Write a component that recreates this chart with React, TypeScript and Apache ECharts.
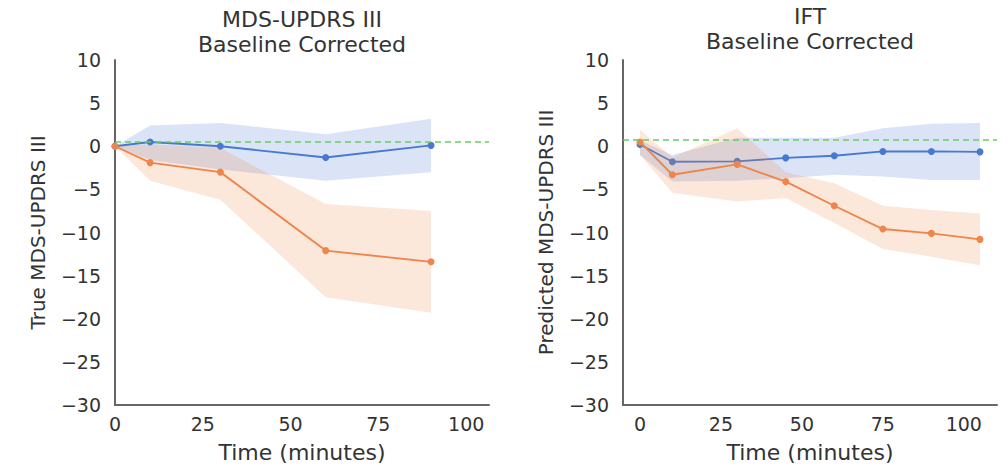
import React, { useEffect, useRef } from "react";
import * as echarts from "echarts";

// ---- data ----
const leftTimes = [0, 10, 30, 60, 90];
const leftBlue = [0, 0.5, 0.0, -1.3, 0.1];
const leftBlueUpper = [0, 2.4, 2.7, 1.4, 3.2];
const leftBlueLower = [0, -1.6, -2.7, -4.0, -3.0];
const leftOrange = [0, -1.9, -3.0, -12.1, -13.4];
const leftOrangeUpper = [0, 0.2, -0.2, -6.7, -7.5];
const leftOrangeLower = [0, -4.0, -6.2, -17.5, -19.3];
const leftRef = 0.5;

const rightTimes = [0, 10, 30, 45, 60, 75, 90, 105];
const rightBlue = [0.2, -1.8, -1.75, -1.35, -1.1, -0.6, -0.6, -0.65];
const rightBlueUpper = [0.7, -1.0, 1.0, 1.0, 1.0, 2.1, 2.6, 2.7];
const rightBlueLower = [-1.0, -4.1, -4.0, -3.7, -3.3, -3.5, -3.9, -3.9];
const rightOrange = [0.5, -3.3, -2.1, -4.1, -6.9, -9.6, -10.1, -10.8];
const rightOrangeUpper = [1.9, -1.3, 2.1, -3.0, -4.3, -6.9, -7.4, -7.8];
const rightOrangeLower = [-1.0, -5.4, -6.4, -6.0, -8.9, -11.9, -12.8, -13.8];
const rightRef = 0.8;

const yTicks = [10, 5, 0, -5, -10, -15, -20, -25, -30];
const xTicks = [0, 25, 50, 75, 100];

const titles = ["MDS-UPDRS III\nBaseline Corrected", "IFT\nBaseline Corrected"];
const yNames = ["True MDS-UPDRS III", "Predicted MDS-UPDRS III"];
const xName = "Time (minutes)";

const BLUE = "#4878d0";
const ORANGE = "#ee854a";
const GREEN = "#6acc64";
const BLUE_FILL = "rgba(72,120,208,0.2)";
const ORANGE_FILL = "rgba(238,133,74,0.2)";
const TEXT = "#333333";
const AXIS = "#666666";
const FONT = "DejaVu Sans";

function bandSeries(idx: number, times: number[], lower: number[], upper: number[], fill: string, z: number) {
  return {
    type: "custom",
    xAxisIndex: idx,
    yAxisIndex: idx,
    silent: true,
    z,
    data: times.map((t, i) => [t, lower[i], upper[i]]),
    encode: { x: 0, y: [1, 2] },
    renderItem: (params: any, api: any) => {
      if (params.dataIndex !== 0) return null;
      const top = times.map((t, i) => api.coord([t, upper[i]]));
      const bot = times.map((t, i) => api.coord([t, lower[i]])).reverse();
      return {
        type: "polygon",
        shape: { points: top.concat(bot) },
        style: { fill, stroke: "none" },
      };
    },
  };
}

function lineSeries(idx: number, times: number[], vals: number[], color: string, z: number, ref?: number) {
  const s: any = {
    type: "line",
    xAxisIndex: idx,
    yAxisIndex: idx,
    z,
    data: times.map((t, i) => [t, vals[i]]),
    symbol: "circle",
    symbolSize: 7,
    showSymbol: true,
    lineStyle: { color, width: 1.9 },
    itemStyle: { color, borderWidth: 0 },
    silent: true,
  };
  if (ref !== undefined) {
    s.markLine = {
      silent: true,
      symbol: ["none", "none"],
      label: { show: false },
      lineStyle: { color: GREEN, type: [6, 4], width: 1.5 },
      data: [{ yAxis: ref }],
    };
  }
  return s;
}

const minus = (v: number) => (v < 0 ? "\u2212" + Math.abs(v) : String(v));

export default function App() {
  const ref = useRef<HTMLDivElement>(null);
  useEffect(() => {
    if (!ref.current) return;
    const chart = echarts.init(ref.current, null, { renderer: "svg" });
    const grids = [
      { left: 115, top: 60, width: 374, height: 345 },
      { left: 623, top: 60, width: 374, height: 345 },
    ];
    const xRanges = [
      [0, 106.5],
      [-5.25, 110.25],
    ];
    const xAxis = xRanges.map((r, i) => ({
      type: "value",
      gridIndex: i,
      min: r[0],
      max: r[1],
      name: xName,
      nameLocation: "middle",
      nameGap: 36,
      nameTextStyle: { color: TEXT, fontSize: 22, fontFamily: FONT },
      axisLine: { show: true, onZero: false, lineStyle: { color: AXIS, width: 2 } },
      axisTick: { show: false },
      splitLine: { show: false },
      axisLabel: {
        color: TEXT,
        fontSize: 19,
        fontFamily: FONT,
        margin: 9,
        customValues: xTicks,
        formatter: (v: number) => String(v),
      },
    }));
    const yAxis = [0, 1].map((i) => ({
      type: "value",
      gridIndex: i,
      min: yTicks[yTicks.length - 1],
      max: yTicks[0],
      interval: 5,
      name: yNames[i],
      nameLocation: "middle",
      nameGap: 67,
      nameRotate: 90,
      nameTextStyle: { color: TEXT, fontSize: 20, fontFamily: FONT },
      axisLine: { show: true, onZero: false, lineStyle: { color: AXIS, width: 2 } },
      axisTick: { show: false },
      splitLine: { show: false },
      axisLabel: { color: TEXT, fontSize: 19, fontFamily: FONT, margin: 14, formatter: minus },
    }));
    const series = [
      bandSeries(0, leftTimes, leftBlueLower, leftBlueUpper, BLUE_FILL, 1),
      lineSeries(0, leftTimes, leftBlue, BLUE, 2),
      bandSeries(0, leftTimes, leftOrangeLower, leftOrangeUpper, ORANGE_FILL, 3),
      lineSeries(0, leftTimes, leftOrange, ORANGE, 4, leftRef),
      bandSeries(1, rightTimes, rightBlueLower, rightBlueUpper, BLUE_FILL, 1),
      lineSeries(1, rightTimes, rightBlue, BLUE, 2),
      bandSeries(1, rightTimes, rightOrangeLower, rightOrangeUpper, ORANGE_FILL, 3),
      lineSeries(1, rightTimes, rightOrange, ORANGE, 4, rightRef),
    ];
    const titleX = [302, 810];
    const titleY = [7, 4];
    chart.setOption({
      animation: false,
      backgroundColor: "#ffffff",
      grid: grids,
      xAxis,
      yAxis,
      series,
      graphic: titles.map((t, i) => ({
        type: "text",
        x: titleX[i],
        y: titleY[i],
        style: {
          text: t,
          align: "center",
          verticalAlign: "top",
          fontSize: 22,
          lineHeight: 25,
          fontFamily: FONT,
          fill: TEXT,
        },
      })),
    });
    return () => chart.dispose();
  }, []);
  return (
    <div
      ref={ref}
      style={{ position: "fixed", left: 0, top: 0, width: 1008, height: 473, background: "#fff" }}
    />
  );
}
